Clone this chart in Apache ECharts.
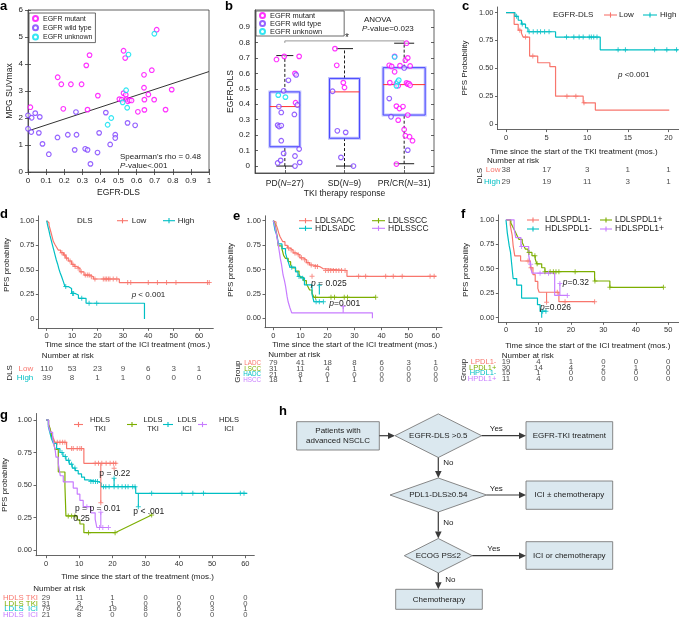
<!DOCTYPE html>
<html><head><meta charset="utf-8">
<script src="https://cdn.jsdelivr.net/npm/echarts@6.0.0/dist/echarts.min.js"></script>
<style>html,body{margin:0;padding:0;background:#fff;}#chart{width:679px;height:625px;}</style>
</head><body><div id="chart"></div>
<script>
// ================= DATA =================
// ---- panel a ----
const aSeriesNames = ['EGFR mutant','EGFR wild type','EGFR unknown'];
const aMutant = [[0.013,2.40],[0.164,3.51],[0.184,3.25],[0.237,3.25],[0.296,3.25],[0.195,2.34],[0.329,2.31],[0.322,3.95],[0.340,4.33],[0.386,2.83],[0.528,4.49],[0.537,4.22],[0.641,3.60],[0.684,3.77],[0.641,3.12],[0.711,5.27],[0.794,3.05],[0.665,2.87],[0.643,2.68],[0.697,2.68],[0.607,2.23],[0.643,2.30],[0.760,2.31],[0.505,2.70],[0.518,2.68],[0.528,2.92],[0.540,2.86],[0.545,2.70],[0.552,2.62],[0.562,2.66],[0.572,2.65]];
const aWild = [[0.0,2.10],[0.02,2.01],[0.04,2.18],[0.065,2.04],[0.0,1.60],[0.018,1.48],[0.06,1.45],[0.08,1.04],[0.115,0.66],[0.163,1.28],[0.22,1.38],[0.268,1.38],[0.265,2.22],[0.258,0.82],[0.316,0.86],[0.329,0.82],[0.345,0.30],[0.384,0.72],[0.393,1.45],[0.43,2.20],[0.454,1.02],[0.482,1.38],[0.482,1.26],[0.55,1.82],[0.592,1.73]];
const aUnknown = [[0.698,5.12],[0.555,4.35],[0.542,3.03],[0.523,2.58],[0.548,2.38],[0.46,2.0],[0.44,1.75]];
const aFitLine = [[0,1.52],[1,3.72]];
const aXTicks = [0,0.1,0.2,0.3,0.4,0.5,0.6,0.7,0.8,0.9,1];
const aYTicks = [0,1,2,3,4,5,6];

// ---- panel b ----
const bCategories = ['PD','SD','PR/CR'];
const bN = [27,9,31];
const bBoxStats = [[0,0.125,0.385,0.48,0.715],[0,0.18,0.48,0.567,0.76],[0.015,0.33,0.527,0.637,0.795]];
const bMutant = [[0.86,0.69],[0.99,0.71],[1.24,0.71],[1.17,0.60],[1.18,0.41],[1.84,0.76],[1.87,0.652],[1.98,0.54],[2.0,0.508],[3.04,0.795],[2.84,0.71],[2.75,0.652],[2.79,0.645],[2.84,0.61],[2.93,0.65],[3.02,0.685],[3.06,0.70],[3.1,0.648],[2.76,0.54],[2.87,0.534],[2.9,0.52],[3.04,0.538],[3.06,0.53],[3.08,0.534],[3.1,0.523],[2.87,0.388],[2.92,0.372],[2.98,0.385],[3.06,0.33],[2.9,0.297],[3.0,0.237],[3.02,0.196],[3.09,0.19],[3.14,0.164],[2.87,0.013]];
const bWild = [[1.06,0.555],[0.98,0.487],[0.9,0.385],[0.94,0.347],[1.16,0.334],[0.88,0.265],[0.905,0.256],[0.94,0.262],[0.94,0.164],[0.98,0.082],[0.88,0.02],[0.93,0.037],[1.17,0.065],[1.17,0.0],[1.24,0.11],[1.25,0.024],[1.21,0.395],[1.19,0.59],[1.8,0.484],[1.88,0.228],[2.02,0.218],[1.94,0.056],[2.15,0.0],[2.75,0.437],[2.78,0.319],[3.0,0.635],[3.06,0.103]];
const bUnknown = [[0.89,0.459],[1.01,0.446],[2.84,0.706],[2.89,0.545],[2.91,0.556],[2.87,0.519]];
const bYTicks = [0,0.1,0.2,0.3,0.4,0.5,0.6,0.7,0.8,0.9];
const bXTicks = [1,2,3];
const bSigBracket = [[1,0.797],[1,0.81],[3,0.81],[3,0.797]];

// ---- panel c (TKI, EGFR-DLS) ----
const cLowSteps = [[0,1],[1.0,0.895],[1.5,0.842],[1.9,0.815],[2.1,0.78],[2.9,0.61],[3.9,0.55],[5.4,0.515],[6.1,0.25],[9.5,0.19],[11.0,0.125],[20.1,0.125]];
const cLowCensor = [1.7,2.4,3.3,7.5,8.6,9.6];
const cHighSteps = [[0,1],[1.1,0.966],[1.5,0.931],[1.9,0.897],[2.4,0.862],[2.7,0.828],[6.1,0.78],[11.6,0.666],[21.2,0.666]];
const cHighCensor = [1.3,2.0,2.85,3.35,3.85,4.25,4.75,5.3,7.45,8.35,9.0,9.5,10.25,10.5,10.8,11.2,13.8,14.7,18.3,19.8,21.0];
const cXTicks = [0,5,10,15,20];
const cRiskTimes = [0,5,10,15,20];
const cRiskLow = [38,17,3,1,1];
const cRiskHigh = [29,19,11,3,1];

// ---- panel d (ICI, DLS) ----
const dLowSteps = [[0,1],[0.5,0.98],[0.9,0.955],[1.3,0.92],[1.7,0.88],[2.1,0.84],[2.6,0.79],[3.2,0.76],[3.9,0.73],[4.6,0.70],[5.5,0.675],[6.6,0.65],[7.5,0.62],[8.5,0.59],[9.8,0.556],[10.8,0.535],[11.8,0.515],[13.1,0.48],[14.7,0.447],[17.0,0.43],[18.4,0.407],[28.6,0.37],[64.0,0.37]];
const dLowCensor = [6.0,7.0,7.8,9.2,10.3,11.2,12.4,13.6,15.2,16.0,16.7,17.6,19.0,22.3,23.0,23.6,24.3,24.9,26.2,27.6,31.9,33.1,40,43.6,47.2,50.9,63.3,64.0];
const dHighSteps = [[0,1],[0.4,0.95],[0.9,0.9],[1.3,0.85],[1.8,0.8],[2.3,0.75],[2.8,0.7],[3.3,0.65],[3.8,0.6],[4.3,0.56],[4.8,0.51],[5.3,0.47],[5.9,0.43],[6.5,0.385],[7.2,0.33],[8.5,0.31],[9.8,0.26],[11.2,0.244],[12.5,0.21],[15.5,0.16],[38.5,0.16],[38.5,0]];
const dHighCensor = [7.5,10.2,10.6,13.8,16.7,19.7];
const dXTicks = [0,10,20,30,40,50,60];
const dRiskTimes = [0,10,20,30,40,50,60];
const dRiskLow = [110,53,23,9,6,3,1];
const dRiskHigh = [39,8,1,1,0,0,0];

// ---- panel e (ICI, DLS x histology) ----
const eLADCSteps = [[0,1],[0.5,0.987],[1,0.962],[1.5,0.924],[2,0.873],[2.5,0.835],[3,0.81],[3.5,0.785],[4.3,0.747],[5.2,0.72],[6.1,0.70],[7.3,0.67],[8.5,0.65],[9.8,0.62],[11,0.60],[12.2,0.57],[13.4,0.546],[14.6,0.53],[17.1,0.51],[18.3,0.49],[27.2,0.43],[60.2,0.43]];
const eLADCCensor = [5.6,6.6,8,9.2,10.4,11.6,12.8,14,15.5,16.3,19.3,20.3,21.2,22.2,23.2,24.2,25.2,26.5,31.5,34.1,41.5,44.3,47.6,57.9,59.4];
const eLSCCSteps = [[0,1],[0.6,0.968],[1,0.903],[1.4,0.839],[1.8,0.742],[3.2,0.71],[3.8,0.645],[4.5,0.613],[5.5,0.58],[6.4,0.548],[7,0.516],[8.2,0.484],[9.5,0.452],[10,0.419],[11.2,0.387],[12.2,0.355],[12.8,0.323],[13.4,0.29],[14.3,0.258],[15,0.215],[37.8,0.215]];
const eLSCCCensor = [15.6,21.3,22.6,26.2,27.4,37.8];
const eHADCSteps = [[0,1],[0.3,0.952],[0.6,0.905],[1.2,0.857],[1.6,0.81],[1.9,0.762],[3.2,0.714],[4.5,0.667],[5,0.619],[5.6,0.571],[6.1,0.524],[8.2,0.476],[9.1,0.429],[10,0.41],[11.5,0.342],[14.3,0.245],[15,0.17],[18.5,0.17]];
const eHADCCensor = [6.8,9.5,10.8,15.8,17.0,18.5];
const eHSCCSteps = [[0,1],[0.6,0.944],[1,0.889],[1.3,0.833],[1.7,0.778],[2,0.722],[2.3,0.667],[2.6,0.611],[3,0.556],[3.3,0.5],[3.6,0.444],[4.1,0.389],[4.5,0.333],[4.8,0.278],[5.1,0.222],[5.5,0.167],[6.1,0.111],[6.8,0.056],[36.6,0.056],[36.6,0]];
const eHSCCCensor = [];
const ePointerCyan = [[17,0.245],[17,0.34]];
const ePointerPurple = [[25.8,0.056],[25.8,0.12]];
const eMarkRed = [[14.3,0.43]];
const eXTicks = [0,10,20,30,40,50,60];
const eRiskTimes = [0,10,20,30,40,50,60];
const eRiskLADC = [79,41,18,8,6,3,1];
const eRiskLSCC = [31,11,4,1,0,0,0];
const eRiskHADC = [21,8,0,0,0,0,0];
const eRiskHSCC = [18,1,1,1,0,0,0];

// ---- panel f (ICI, DLS x PD-L1) ----
const fLNegSteps = [[0,1],[1.3,0.947],[1.6,0.895],[1.9,0.842],[2.2,0.737],[2.7,0.632],[4.5,0.579],[7.5,0.51],[8.3,0.44],[9,0.37],[9.8,0.3],[10.2,0.26],[16.3,0.164],[27.3,0.164]];
const fLNegCensor = [6.8,7.7,15.8,18.2,27.3];
const fLPosSteps = [[0,1],[1.5,0.967],[2,0.933],[2.5,0.9],[3,0.867],[3.5,0.833],[4,0.8],[5,0.767],[5.5,0.733],[6,0.7],[6.8,0.667],[8,0.633],[9,0.6],[9.5,0.55],[11,0.51],[12,0.47],[27.3,0.375],[32,0.31],[48.5,0.31]];
const fLPosCensor = [7.1,8.9,9.6,12,13.6,14.6,15.4,16.3,21.3,27.4,32,48.5];
const fHNegSteps = [[0,1],[0.4,0.867],[1,0.733],[1.4,0.667],[1.8,0.533],[2.2,0.4],[3.3,0.333],[4.8,0.2],[9.7,0.133],[10.5,0.067],[12.5,0.067]];
const fHNegCensor = [11.3,12.3];
const fHPosSteps = [[0,1],[2.5,0.909],[3,0.818],[4.6,0.727],[7,0.636],[7.5,0.545],[8,0.455],[15,0.227],[19,0.227]];
const fHPosCensor = [4.8,7.6,10.5,13.1,18.9];
const fPointerRed = [[12.5,0.157],[12.5,0.26]];
const fPointerPurple = [[16.6,0.227],[16.6,0.35]];
const fPointerCyan = [[11,0],[11,0.067]];
const fXTicks = [0,10,20,30,40,50];
const fRiskTimes = [0,10,20,30,40,50];
const fRiskLNeg = [19,4,1,0,0,0];
const fRiskLPos = [30,14,4,2,1,0];
const fRiskHNeg = [15,1,0,0,0,0];
const fRiskHPos = [11,4,0,0,0,0];

// ---- panel g (TKI vs ICI) ----
const gHTKISteps = [[0,1],[0.7,0.966],[1.2,0.931],[1.7,0.897],[2.2,0.862],[2.7,0.828],[6.2,0.78],[11.4,0.667],[21.3,0.667]];
const gHTKICensor = [3.4,4.2,5.0,5.7,7.7,8.2,9.4,10.2,10.7,14.8,15.8,16.8,18.1,19.3,20.3,21.0];
const gLTKISteps = [[0,1],[0.8,0.968],[1.2,0.935],[1.7,0.871],[2.2,0.839],[2.7,0.774],[3.7,0.6],[5.7,0.49],[6.0,0.262],[9.4,0.231],[10.2,0.2],[11.4,0.133],[20.8,0.133]];
const gLTKICensor = [6.7,7.7,8.7,12.8,20.8];
const gLICISteps = [[0,1],[0.7,0.95],[1.2,0.9],[1.6,0.86],[2.2,0.82],[3.2,0.78],[4.2,0.75],[5.1,0.72],[6,0.69],[7,0.66],[7.9,0.63],[8.8,0.61],[9.7,0.585],[10.7,0.56],[11.6,0.54],[12.6,0.527],[15.6,0.515],[16.6,0.487],[27,0.436],[60.6,0.436]];
const gLICICensor = [4.8,5.8,6.8,7.7,8.7,13.5,14.2,14.9,15.5,17.3,18,19,20.5,21.7,22.9,23.9,24.7,26.1,26.8,31.8,40.9,44.2,47.4,58.5,59.6];
const gHICISteps = [[0,1],[0.8,0.952],[1.3,0.905],[2,0.857],[2.4,0.81],[2.8,0.762],[3,0.714],[3.7,0.667],[4,0.619],[4.3,0.571],[5.2,0.524],[8.2,0.476],[9.4,0.429],[10.2,0.381],[11.2,0.333],[13.5,0.286],[14.8,0.238],[15.3,0.173],[18.8,0.173]];
const gHICICensor = [12.3,16.1,17.1,18.8];
const gPointerRed = [[16.5,0.364],[16.5,0.667]];
const gMarkRed = [[16.5,0.364],[20.5,0.628]];
const gPointerGreen = [[20.8,0.133],[31.8,0.269]];
const gMarkGreen = [[31.8,0.269]];
const gPointerCyanA = [[20.5,0.487],[20.5,0.551]];
const gPointerCyanB = [[27.8,0.333],[27.8,0.436]];
const gMarkCyan = [[20.5,0.551],[27.8,0.333]];
const gPointerPurple = [[16.5,0.173],[16.5,0.29]];
const gMarkPurple = [[16.5,0.29]];
const gXTicks = [0,10,20,30,40,50,60];
const gRiskTimes = [0,10,20,30,40,50,60];
const gRiskHTKI = [29,11,1,0,0,0,0];
const gRiskLTKI = [31,3,1,0,0,0,0];
const gRiskLICI = [79,42,19,8,6,3,1];
const gRiskHICI = [21,8,0,0,0,0,0];

const kmYTicks = [0,0.25,0.5,0.75,1];

// ================= STYLE =================
const RED='#F8766D', GREEN='#7CAE00', CYAN='#00BFC4', PURPLE='#C77CFF';
const MUT='#ff00ff', WILD='#7a3cff', UNK='#00e0f0';
const FONT="'Liberation Sans', Arial, Helvetica, sans-serif";
const PLUS='path://M4,0H6V4H10V6H6V10H4V6H0V4H4Z';
const ML='#3a3a3a';   // matlab axis colour
const GG='#555555';   // ggplot axis colour
const B_BOX_W=[30,30,42], B_CAP_W=[17,17,20];

const grids=[], xAxes=[], yAxes=[], series=[], graphics=[];

function T(x,y,text,o){o=o||{};
  const st={text:text,fill:o.color||'#222',fontSize:o.fs||8,fontFamily:FONT,align:o.align||'left',verticalAlign:o.va||'middle',fontWeight:o.fw||'normal',fontStyle:o.fst||'normal'};
  if(o.rich) st.rich=o.rich;
  return {type:'text',x:x,y:y,rotation:o.rot||0,silent:true,z:100,style:st};
}
function L(x1,y1,x2,y2,color,w){return {type:'line',silent:true,z:100,shape:{x1:x1,y1:y1,x2:x2,y2:y2},style:{stroke:color,lineWidth:w||1}};}
function italicRich(fs){return {i:{fontStyle:'italic',fontSize:fs,fontFamily:FONT,fill:'#222'}};}

function kmValue(steps,t){let p=steps[0][1];for(const s of steps){if(s[0]<=t)p=s[1];else break;}return p;}

// ================= PANEL a =================
grids[0]={left:28,top:10,width:181,height:162,show:true,borderColor:ML,borderWidth:0.8,outerBoundsMode:'none'};
xAxes[0]={gridIndex:0,type:'value',min:0,max:1,axisLine:{show:true,onZero:false,lineStyle:{color:ML,width:0.8}},
  axisTick:{show:true,inside:true,length:3,customValues:aXTicks,lineStyle:{color:ML,width:0.8}},
  axisLabel:{customValues:aXTicks,fontSize:8,color:'#222',margin:5,formatter:v=>String(Math.round(v*10)/10)},
  splitLine:{show:false},name:'EGFR-DLS',nameLocation:'middle',nameGap:16,nameTextStyle:{fontSize:8.5,color:'#222',fontFamily:FONT}};
yAxes[0]={gridIndex:0,type:'value',min:0,max:6,axisLine:{show:true,onZero:false,lineStyle:{color:ML,width:0.8}},
  axisTick:{show:true,inside:true,length:3,customValues:aYTicks,lineStyle:{color:ML,width:0.8}},
  axisLabel:{customValues:aYTicks,fontSize:8,color:'#222',margin:5},
  splitLine:{show:false},name:'MPG SUVmax',nameLocation:'middle',nameGap:11,nameTextStyle:{fontSize:8.5,color:'#222',fontFamily:FONT}};
function scatterAB(gi,name,data,color){return {type:'scatter',name:name,xAxisIndex:gi,yAxisIndex:gi,data:data,symbol:'circle',symbolSize:4.6,
  itemStyle:{color:'rgba(255,255,255,0.7)',borderColor:color,borderWidth:1.2},z:5,silent:true};}
series.push(scatterAB(0,aSeriesNames[0],aMutant,MUT));
series.push(scatterAB(0,aSeriesNames[1],aWild,WILD));
series.push(scatterAB(0,aSeriesNames[2],aUnknown,UNK));
series.push({type:'line',xAxisIndex:0,yAxisIndex:0,data:aFitLine,symbol:'none',lineStyle:{color:'#333',width:1},z:3,silent:true});
graphics.push(T(120,156.7,"Spearman's rho = 0.48",{fs:8}));
graphics.push(T(120,165.7,"{i|P}-value<.001",{fs:8,rich:italicRich(8)}));

// ================= PANEL b =================
grids[1]={left:255,top:10,width:179,height:163,show:true,borderColor:ML,borderWidth:0.8,outerBoundsMode:'none'};
xAxes[1]={gridIndex:1,type:'value',min:0.5,max:3.5,axisLine:{show:true,onZero:false,lineStyle:{color:ML,width:0.8}},
  axisTick:{show:true,inside:true,length:3,customValues:bXTicks,lineStyle:{color:ML,width:0.8}},
  axisLabel:{customValues:bXTicks,fontSize:8.5,color:'#222',margin:6,
    formatter:v=>{const i=Math.round(v)-1;return bCategories[i]+'({it|N}='+bN[i]+')';},
    rich:{it:{fontStyle:'italic',fontSize:8.5,fontFamily:FONT,color:'#222'}}},
  splitLine:{show:false},name:'TKI therapy response',nameLocation:'middle',nameGap:16,nameTextStyle:{fontSize:8.5,color:'#222',fontFamily:FONT}};
yAxes[1]={gridIndex:1,type:'value',min:-0.045,max:1.01,axisLine:{show:true,onZero:false,lineStyle:{color:ML,width:0.8}},
  axisTick:{show:true,inside:true,length:3,customValues:bYTicks,lineStyle:{color:ML,width:0.8}},
  axisLabel:{customValues:bYTicks,fontSize:8,color:'#222',margin:5,formatter:v=>v===0?'0':(Math.round(v*10)/10).toFixed(1)},
  splitLine:{show:false},name:'EGFR-DLS',nameLocation:'middle',nameGap:19,nameTextStyle:{fontSize:8.5,color:'#222',fontFamily:FONT}};
series.push({type:'custom',xAxisIndex:1,yAxisIndex:1,z:2,silent:true,
  data:bBoxStats.map((s,i)=>[i+1].concat(s)),
  encode:{x:0,y:[1,2,3,4,5]},
  renderItem:function(params,api){
    const i=params.dataIndex, xv=api.value(0);
    const mn=api.value(1),q1=api.value(2),md=api.value(3),q3=api.value(4),mx=api.value(5);
    const cx=api.coord([xv,md])[0]; const y=v=>api.coord([xv,v])[1];
    const w=B_BOX_W[i]/2, cw=B_CAP_W[i]/2;
    return {type:'group',children:[
      {type:'line',shape:{x1:cx,y1:y(q3),x2:cx,y2:y(mx)},style:{stroke:'#000',lineWidth:0.9,lineDash:[3,2]}},
      {type:'line',shape:{x1:cx,y1:y(mn),x2:cx,y2:y(q1)},style:{stroke:'#000',lineWidth:0.9,lineDash:[3,2]}},
      {type:'line',shape:{x1:cx-cw,y1:y(mx),x2:cx+cw,y2:y(mx)},style:{stroke:'#000',lineWidth:0.9}},
      {type:'line',shape:{x1:cx-cw,y1:y(mn),x2:cx+cw,y2:y(mn)},style:{stroke:'#000',lineWidth:0.9}},
      {type:'rect',shape:{x:cx-w,y:y(q3),width:2*w,height:y(q1)-y(q3)},style:{fill:'none',stroke:'rgba(120,120,255,0.45)',lineWidth:3}},
      {type:'rect',shape:{x:cx-w,y:y(q3),width:2*w,height:y(q1)-y(q3)},style:{fill:'none',stroke:'#4a4aff',lineWidth:1}},
      {type:'line',shape:{x1:cx-w,y1:y(md),x2:cx+w,y2:y(md)},style:{stroke:'#ff3030',lineWidth:1}}
    ]};
  }});
series.push(scatterAB(1,aSeriesNames[0],bMutant,MUT));
series.push(scatterAB(1,aSeriesNames[1],bWild,WILD));
series.push(scatterAB(1,aSeriesNames[2],bUnknown,UNK));
series.push({type:'line',xAxisIndex:1,yAxisIndex:1,data:bSigBracket,symbol:'none',lineStyle:{color:'#8c8c8c',width:0.9},z:3,silent:true});
graphics.push(T(347,38,'*',{fs:10,align:'center'}));
graphics.push(T(364,20,'ANOVA',{fs:8}));
graphics.push(T(362,28.5,'{i|P}-value=0.023',{fs:8,rich:italicRich(8)}));

// ================= KM PANELS =================
function kmPanel(p){
  const gi=p.gi, ri=gi+1;
  grids[gi]=Object.assign({outerBoundsMode:'none'},p.grid);
  xAxes[gi]={gridIndex:gi,type:'value',min:p.x[0],max:p.x[1],
    axisLine:{show:true,onZero:false,lineStyle:{color:GG,width:0.9}},
    axisTick:{show:true,length:2.5,customValues:p.xt,lineStyle:{color:GG,width:0.9}},
    axisLabel:{customValues:p.xt,fontSize:p.tfs||7.5,color:'#333',margin:4},splitLine:{show:false}};
  yAxes[gi]={gridIndex:gi,type:'value',min:p.y[0],max:p.y[1],
    axisLine:{show:true,onZero:false,lineStyle:{color:GG,width:0.9}},
    axisTick:{show:true,length:2.5,customValues:kmYTicks,lineStyle:{color:GG,width:0.9}},
    axisLabel:{customValues:kmYTicks,fontSize:p.tfs||7.5,color:'#333',margin:4,formatter:v=>p.ylab[Math.round(v*4)]},splitLine:{show:false}};
  p.curves.forEach(c=>{
    series.push({type:'line',xAxisIndex:gi,yAxisIndex:gi,data:c[0],step:'end',symbol:'none',lineStyle:{color:c[2],width:1.2},z:3,silent:true});
    if(c[1].length) series.push({type:'scatter',xAxisIndex:gi,yAxisIndex:gi,data:c[1].map(t=>[t,kmValue(c[0],t)]),symbol:PLUS,symbolSize:5,itemStyle:{color:c[2]},z:4,silent:true});
  });
  (p.pointers||[]).forEach(c=>{
    series.push({type:'line',xAxisIndex:gi,yAxisIndex:gi,data:c[0],symbol:'none',lineStyle:{color:c[1],width:1.1},z:3,silent:true});
  });
  (p.marks||[]).forEach(c=>{
    series.push({type:'scatter',xAxisIndex:gi,yAxisIndex:gi,data:c[0],symbol:PLUS,symbolSize:5,itemStyle:{color:c[1]},z:4,silent:true});
  });
  const r=p.risk;
  grids[ri]=Object.assign({outerBoundsMode:'none'},r.grid);
  xAxes[ri]={gridIndex:ri,type:'value',min:p.x[0],max:p.x[1],show:false};
  yAxes[ri]={gridIndex:ri,type:'category',inverse:true,data:r.rows.map((n,i)=>({value:n,textStyle:{color:r.colors[i]}})),
    axisLine:{show:false},axisTick:{show:false},splitLine:{show:false},
    axisLabel:{fontSize:r.lfs,margin:r.margin,fontFamily:FONT,interval:0}};
  const pts=[]; r.counts.forEach((row,i)=>row.forEach((n,j)=>pts.push([r.times[j],i,n])));
  series.push({type:'scatter',xAxisIndex:ri,yAxisIndex:ri,data:pts,symbolSize:1,itemStyle:{color:'rgba(0,0,0,0)'},silent:true,
    label:{show:true,position:'inside',formatter:q=>String(q.value[2]),fontSize:r.fs,color:'#222',fontFamily:FONT}});
}
const yl1=['0','0.25','0.50','0.75','1.00'], yl2=['0.00','0.25','0.50','0.75','1.00'];

kmPanel({gi:2,grid:{left:497.5,top:7,width:181.5,height:122.6},x:[-1.05,21.3],y:[-0.05,1.05],xt:cXTicks,ylab:yl1,
  curves:[[cLowSteps,cLowCensor,RED],[cHighSteps,cHighCensor,CYAN]],
  risk:{grid:{left:497.5,top:164.2,width:181.5,height:23.4},times:cRiskTimes,rows:['Low','High'],colors:[RED,CYAN],counts:[cRiskLow,cRiskHigh],fs:8,lfs:8,margin:-3}});
kmPanel({gi:4,grid:{left:38.3,top:215.8,width:175,height:112.5},x:[-3.3,65.6],y:[-0.095,1.05],xt:dXTicks,ylab:yl1,
  curves:[[dLowSteps,dLowCensor,RED],[dHighSteps,dHighCensor,CYAN]],
  risk:{grid:{left:38.3,top:363.6,width:175,height:18.8},times:dRiskTimes,rows:['Low','High'],colors:[RED,CYAN],counts:[dRiskLow,dRiskHigh],fs:8,lfs:8,margin:5}});
kmPanel({gi:6,grid:{left:265,top:215.8,width:177,height:111.9},x:[-3.07,62.3],y:[-0.096,1.05],xt:eXTicks,ylab:yl2,
  curves:[[eLADCSteps,eLADCCensor,RED],[eLSCCSteps,eLSCCCensor,GREEN],[eHADCSteps,eHADCCensor,CYAN],[eHSCCSteps,eHSCCCensor,PURPLE]],
  pointers:[[ePointerCyan,CYAN],[ePointerPurple,PURPLE]],
  marks:[[eMarkRed,RED],[[ePointerCyan[1]],CYAN],[[ePointerPurple[1]],PURPLE]],
  risk:{grid:{left:265,top:360.5,width:177,height:22.3},times:eRiskTimes,rows:['LADC','LSCC','HADC','HSCC'],colors:[RED,GREEN,CYAN,PURPLE],counts:[eRiskLADC,eRiskLSCC,eRiskHADC,eRiskHSCC],fs:7.8,lfs:6.3,margin:4}});
kmPanel({gi:8,grid:{left:498.3,top:214.9,width:180.7,height:107.4},x:[-2.37,53.3],y:[-0.047,1.05],xt:fXTicks,ylab:yl2,
  curves:[[fLNegSteps,fLNegCensor,RED],[fLPosSteps,fLPosCensor,GREEN],[fHNegSteps,fHNegCensor,CYAN],[fHPosSteps,fHPosCensor,PURPLE]],
  pointers:[[fPointerRed,RED],[fPointerPurple,PURPLE],[fPointerCyan,CYAN]],
  marks:[[[fPointerRed[0]],RED],[[fPointerPurple[1]],PURPLE]],
  risk:{grid:{left:498.3,top:358.8,width:180.7,height:23.1},times:fRiskTimes,rows:['LPDL1-','LPDL1+','HPDL1-','HPDL1+'],colors:[RED,GREEN,CYAN,PURPLE],counts:[fRiskLNeg,fRiskLPos,fRiskHNeg,fRiskHPos],fs:7.8,lfs:7.5,margin:2}});
kmPanel({gi:10,grid:{left:36,top:413.5,width:218.3,height:142.2},x:[-3.01,62.7],y:[-0.044,1.05],xt:gXTicks,ylab:yl2,
  curves:[[gHTKISteps,gHTKICensor,RED],[gLTKISteps,gLTKICensor,GREEN],[gLICISteps,gLICICensor,CYAN],[gHICISteps,gHICICensor,PURPLE]],
  pointers:[[gPointerRed,RED],[gPointerGreen,GREEN],[gPointerCyanA,CYAN],[gPointerCyanB,CYAN],[gPointerPurple,PURPLE]],
  marks:[[gMarkRed,RED],[gMarkGreen,GREEN],[gMarkCyan,CYAN],[gMarkPurple,PURPLE]],
  risk:{grid:{left:36,top:594.8,width:218.3,height:23.1},times:gRiskTimes,rows:['HDLS TKI','LDLS TKI','LDLS  ICI','HDLS  ICI'],colors:[RED,GREEN,CYAN,PURPLE],counts:[gRiskHTKI,gRiskLTKI,gRiskLICI,gRiskHICI],fs:7.6,lfs:7.8,margin:-2}});

// mirrored MATLAB box ticks (top / right) for a and b
[[0,aXTicks,aYTicks,0,1,0,6],[1,bXTicks,bYTicks,0.5,3.5,-0.045,1.01]].forEach((m,k)=>{
  xAxes[12+k]={gridIndex:m[0],type:'value',position:'top',min:m[3],max:m[4],axisLine:{show:false},
    axisTick:{show:true,inside:true,length:3,customValues:m[1],lineStyle:{color:ML,width:0.8}},axisLabel:{show:false},splitLine:{show:false}};
  yAxes[12+k]={gridIndex:m[0],type:'value',position:'right',min:m[5],max:m[6],axisLine:{show:false},
    axisTick:{show:true,inside:true,length:3,customValues:m[2],lineStyle:{color:ML,width:0.8}},axisLabel:{show:false},splitLine:{show:false}};
});

// KM titles & legends (graphic text)
function lgItem(x1,x2,y,color){const cx=(x1+x2)/2;return [L(x1,y,x2,y,color,1.1),L(cx,y-2.6,cx,y+2.6,color,1.1)];}
// c
graphics.push(T(574,151.7,'Time since the start of the TKI treatment (mos.)',{fs:8,align:'center'}));
graphics.push(T(465,68,'PFS Probability',{fs:8,align:'center',rot:Math.PI/2}));
graphics.push(T(487,160.3,'Number at risk',{fs:8}));
graphics.push(T(479.3,175.7,'DLS',{fs:8,align:'center',rot:Math.PI/2}));
graphics.push(T(553,15,'EGFR-DLS',{fs:8}));
graphics.push(...lgItem(604,617,15,RED)); graphics.push(T(619,15,'Low',{fs:8}));
graphics.push(...lgItem(643,657,15,CYAN)); graphics.push(T(660,15,'High',{fs:8}));
graphics.push(T(618,75,'{i|p} <0.001',{fs:8,rich:italicRich(8)}));
// d
graphics.push(T(127.5,345,'Time since the start of the ICI treatment (mos.)',{fs:8,align:'center'}));
graphics.push(T(6.7,265,'PFS probability',{fs:8,align:'center',rot:Math.PI/2}));
graphics.push(T(41.7,355.7,'Number at risk',{fs:8}));
graphics.push(T(9.3,373,'DLS',{fs:8,align:'center',rot:Math.PI/2}));
graphics.push(T(77,220.7,'DLS',{fs:8}));
graphics.push(...lgItem(117,128,220.7,RED)); graphics.push(T(131.7,220.7,'Low',{fs:8}));
graphics.push(...lgItem(163,175,220.7,CYAN)); graphics.push(T(177.7,220.7,'High',{fs:8}));
graphics.push(T(131.7,295,'{i|p} < 0.001',{fs:8,rich:italicRich(8)}));
// e
graphics.push(T(354.7,345,'Time since the start of the ICI treatment (mos.)',{fs:8,align:'center'}));
graphics.push(T(231,270,'PFS probability',{fs:8,align:'center',rot:Math.PI/2}));
graphics.push(T(268.3,355,'Number at risk',{fs:8}));
graphics.push(T(237.7,371.7,'Group',{fs:8,align:'center',rot:Math.PI/2}));
graphics.push(...lgItem(299,312,220.7,RED)); graphics.push(T(315,220.7,'LDLSADC',{fs:8.5}));
graphics.push(...lgItem(299,312,228.3,CYAN)); graphics.push(T(315,228.3,'HDLSADC',{fs:8.5}));
graphics.push(...lgItem(372,385,220.7,GREEN)); graphics.push(T(388,220.7,'LDLSSCC',{fs:8.5}));
graphics.push(...lgItem(372,385,228.3,PURPLE)); graphics.push(T(388,228.3,'HDLSSCC',{fs:8.5}));
graphics.push(T(311,283.3,'{i|p} = 0.025',{fs:8.5,rich:italicRich(8.5)}));
graphics.push(T(329.3,304,'{i|p}=0.001',{fs:8.5,rich:italicRich(8.5)}));
// f
graphics.push(T(587.8,345.7,'Time since the start of the ICI treatment (mos.)',{fs:8,align:'center'}));
graphics.push(T(466,270,'PFS probability',{fs:8,align:'center',rot:Math.PI/2}));
graphics.push(T(501.7,355.7,'Number at risk',{fs:8}));
graphics.push(T(463.3,370,'Group',{fs:8,align:'center',rot:Math.PI/2}));
graphics.push(...lgItem(527,539,220,RED)); graphics.push(T(545,220,'LDLSPDL1-',{fs:8.5}));
graphics.push(...lgItem(527,539,229,CYAN)); graphics.push(T(545,229,'HDLSPDL1-',{fs:8.5}));
graphics.push(...lgItem(600,612,220,GREEN)); graphics.push(T(615,220,'LDLSPDL1+',{fs:8.5}));
graphics.push(...lgItem(600,612,229,PURPLE)); graphics.push(T(615,229,'HDLSPDL1+',{fs:8.5}));
graphics.push(T(562.7,282.3,'{i|p}=0.32',{fs:8.5,rich:italicRich(8.5)}));
graphics.push(T(540,307.7,'{i|p}=0.026',{fs:8.5,rich:italicRich(8.5)}));
// g
graphics.push(T(137.5,576.7,'Time since the start of the treatment (mos.)',{fs:8,align:'center'}));
graphics.push(T(5,485,'PFS probability',{fs:8,align:'center',rot:Math.PI/2}));
graphics.push(T(33.3,588.3,'Number at risk',{fs:8}));
[[74,83,100,'HDLS','TKI',RED],[127,137,153,'LDLS','TKI',GREEN],[163,173,187,'LDLS','ICI',CYAN],[198,207,229,'HDLS','ICI',PURPLE]].forEach(a=>{
  graphics.push(...lgItem(a[0],a[1],424.5,a[5]));
  graphics.push(T(a[2],420,a[3],{fs:7.5,align:'center'}));
  graphics.push(T(a[2],429,a[4],{fs:7.5,align:'center'}));
});
graphics.push(T(99.3,474,'p = 0.22',{fs:8.5}));
graphics.push(T(75,508.3,'p = p = 0.01',{fs:8.5}));
graphics.push(T(73.3,518.3,'0.25',{fs:8.5}));
graphics.push(T(133.3,511.7,'p < .001',{fs:8.5}));

// ================= PANEL h (flowchart) =================
const FILL='#dbe8ef', STROKE='#7a7a7a', ARW='#3a3a3a';
function box(x,y,w,h,lines,ly){graphics.push({type:'rect',silent:true,z:90,shape:{x:x,y:y,width:w,height:h},style:{fill:FILL,stroke:STROKE,lineWidth:0.9}});
  lines.forEach((t,i)=>graphics.push(T(x+w/2,ly[i],t,{fs:8,align:'center'})));}
function diamond(cx,cy,hw,hh,text){graphics.push({type:'polygon',silent:true,z:90,shape:{points:[[cx,cy-hh],[cx+hw,cy],[cx,cy+hh],[cx-hw,cy]]},style:{fill:FILL,stroke:STROKE,lineWidth:0.9}});
  graphics.push(T(cx,cy,text,{fs:8,align:'center'}));}
function arrow(x1,y1,x2,y2){const dx=x2-x1,dy=y2-y1,len=Math.hypot(dx,dy),ux=dx/len,uy=dy/len,hl=7,hw=3.3;
  const bx=x2-ux*hl,by=y2-uy*hl;
  graphics.push({type:'line',silent:true,z:91,shape:{x1:x1,y1:y1,x2:bx,y2:by},style:{stroke:ARW,lineWidth:1.2}});
  graphics.push({type:'polygon',silent:true,z:91,shape:{points:[[x2,y2],[bx-uy*hw,by+ux*hw],[bx+uy*hw,by-ux*hw]]},style:{fill:ARW}});}
box(296.7,421.7,82.6,28.3,['Patients with','advanced NSCLC'],[430.7,441]);
arrow(379.3,435.7,395,435.7);
diamond(438.3,435.7,43.3,21.8,'EGFR-DLS >0.5');
arrow(481.6,435.7,526,435.7); graphics.push(T(496.3,429,'Yes',{fs:8,align:'center'}));
box(526,421.7,86.7,27.6,['EGFR-TKI treatment'],[435.7]);
arrow(438.3,457.5,438.3,478); graphics.push(T(443.3,462.3,'No',{fs:8}));
diamond(438.3,495,48.3,17,'PDL1-DLS≥0.54');
arrow(486.6,495,526,495); graphics.push(T(496.3,488.7,'Yes',{fs:8,align:'center'}));
box(526,481,86.7,28.3,['ICI ± chemotherapy'],[495]);
arrow(438.3,512,438.3,538.5); graphics.push(T(443.3,522.3,'No',{fs:8}));
diamond(438.3,555.7,34,17.2,'ECOG PS≤2');
arrow(472.3,555.7,526,555.7); graphics.push(T(493.8,549,'Yes',{fs:8,align:'center'}));
box(526,541.7,86.7,27.6,['ICI or chemotherapy'],[555.7]);
arrow(438.3,572.9,438.3,589.3); graphics.push(T(445.3,580,'No',{fs:8}));
box(395.7,589.3,86.6,20,['Chemotherapy'],[599.3]);

// ================= panel letters =================
[['a',0,0],['b',225,0],['c',462,0],['d',0,208],['e',233,210],['f',461,208],['g',0,409],['h',279,405]].forEach(l=>{
  graphics.push({type:'text',x:l[1],y:l[2],silent:true,z:100,style:{text:l[0],fontSize:13,fontWeight:'bold',fontFamily:FONT,fill:'#000',align:'left',verticalAlign:'top'}});
});

// ================= legends a/b =================
const legendBase={orient:'vertical',data:aSeriesNames,icon:'circle',itemWidth:5,itemHeight:5,selectedMode:false,
  borderColor:'#444',borderWidth:0.8,backgroundColor:'#fff'};
const legends=[Object.assign({},legendBase,{left:29,top:13,itemGap:0,padding:[1,3,1,3],
                  textStyle:{fontSize:7,lineHeight:9.2,fontFamily:FONT,color:'#222'}}),
               Object.assign({},legendBase,{left:256,top:11,itemGap:0,padding:[0.5,22,0.5,3],
                  textStyle:{fontSize:7.4,lineHeight:8,fontFamily:FONT,color:'#222'}})];

const option={animation:false,textStyle:{fontFamily:FONT},grid:grids,xAxis:xAxes,yAxis:yAxes,series:series,legend:legends,graphic:{elements:graphics}};
const chart=echarts.init(document.getElementById('chart'),null,{renderer:'canvas'});
chart.setOption(option);
</script></body></html>
